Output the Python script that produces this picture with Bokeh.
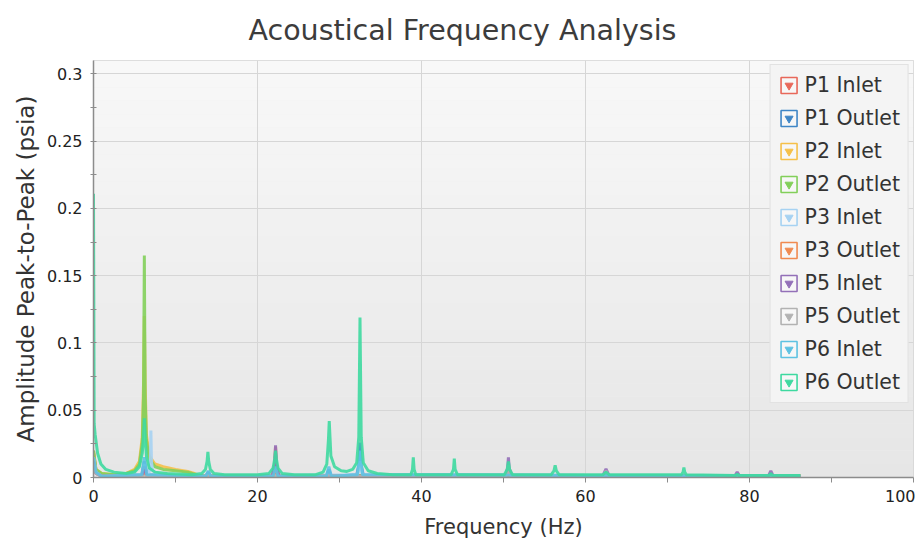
import math
from bokeh.plotting import figure
from bokeh.models import (FixedTicker, CustomJSTickFormatter, Legend, LegendItem,
                          BoxAnnotation, Range1d, ColumnDataSource)
from bokeh.embed import file_html
from bokeh.resources import INLINE

# ---------------- data ----------------
title_text = "Acoustical Frequency Analysis"
series_names = ["P1 Inlet", "P1 Outlet", "P2 Inlet", "P2 Outlet", "P3 Inlet",
                "P3 Outlet", "P5 Inlet", "P5 Outlet", "P6 Inlet", "P6 Outlet"]
series_colors = ["#e8685a", "#3f86c6", "#f5c04a", "#82cf5a", "#a6d2f2",
                 "#f08a50", "#9370b8", "#b2b2b2", "#5ec2e2", "#3ed9a0"]

p1_in_f = [0, 0.3, 1.0, 5.9, 6.2, 6.5, 21.8, 22.1, 22.2, 22.3, 22.6, 50.3, 50.6, 50.9, 86.2]
p1_in_a = [0.02, 0.005, 0.001, 0.001, 0.006, 0.001, 0.001, 0.010, 0.023, 0.010, 0.001, 0.001, 0.008, 0.001, 0.001]

p1_out_f = [0, 0.3, 1.0, 5.9, 6.2, 6.5, 13.7, 14.0, 14.3, 21.9, 22.2, 22.5, 28.4, 28.7, 29.0, 32.1, 32.4, 32.5, 32.6, 32.9, 86.2]
p1_out_a = [0.015, 0.004, 0.001, 0.002, 0.012, 0.002, 0.001, 0.004, 0.001, 0.001, 0.006, 0.001, 0.001, 0.006, 0.001, 0.002, 0.010, 0.026, 0.010, 0.002, 0.001]

p2_in_f = [0, 0.3, 1.0, 2.5, 4.0, 5.0, 5.6, 5.95, 6.1, 6.2, 6.3, 6.45, 6.8, 7.5, 8.5, 10.0, 11.5, 12.3, 12.8, 86.2]
p2_in_a = [0.018, 0.006, 0.003, 0.002, 0.003, 0.006, 0.012, 0.03, 0.07, 0.12, 0.07, 0.032, 0.016, 0.010, 0.008, 0.006, 0.0045, 0.003, 0.0015, 0.0015]

p2_out_f = [0, 0.3, 1.0, 2.5, 4.0, 5.0, 5.6, 5.95, 6.1, 6.2, 6.3, 6.45, 6.8, 7.5, 8.5, 10.0, 11.5, 12.3, 12.8, 86.2]
p2_out_a = [0.02, 0.006, 0.003, 0.002, 0.003, 0.005, 0.010, 0.026, 0.06, 0.165, 0.06, 0.028, 0.014, 0.008, 0.006, 0.005, 0.004, 0.0025, 0.0015, 0.0015]

p3_in_f = [0, 0.3, 1.0, 6.0, 6.2, 6.4, 6.8, 6.93, 7.0, 7.07, 7.2, 7.8, 8.6, 32.2, 32.5, 32.8, 86.2]
p3_in_a = [0.015, 0.004, 0.001, 0.002, 0.010, 0.003, 0.004, 0.012, 0.035, 0.012, 0.005, 0.003, 0.001, 0.002, 0.012, 0.002, 0.001]

p3_out_f = [0, 0.3, 1.0, 5.9, 6.2, 6.5, 21.9, 22.2, 22.5, 86.2]
p3_out_a = [0.012, 0.003, 0.001, 0.001, 0.005, 0.001, 0.001, 0.006, 0.001, 0.001]

p5_in_f = [0, 0.3, 1.0, 5.9, 6.2, 6.5, 21.8, 22.1, 22.2, 22.3, 22.6, 50.2, 50.5, 50.6, 50.7, 51.0,
           62.1, 62.5, 62.9, 78.2, 78.5, 78.8, 82.3, 82.6, 82.9, 86.2]
p5_in_a = [0.012, 0.003, 0.001, 0.001, 0.008, 0.001, 0.001, 0.010, 0.024, 0.010, 0.001, 0.001, 0.007, 0.015, 0.007, 0.001,
           0.001, 0.0065, 0.001, 0.001, 0.004, 0.001, 0.001, 0.005, 0.001, 0.001]

p5_out_f = [0, 0.3, 1.0, 50.3, 50.6, 50.9, 62.2, 62.5, 62.8, 86.2]
p5_out_a = [0.010, 0.003, 0.001, 0.001, 0.009, 0.001, 0.001, 0.005, 0.001, 0.001]

p6_in_f = [0, 0.3, 1.0, 5.9, 6.2, 6.5, 13.7, 14.0, 14.3, 21.9, 22.2, 22.5, 28.4, 28.7, 29.0, 32.2, 32.5, 32.8, 86.2]
p6_in_a = [0.015, 0.004, 0.001, 0.002, 0.015, 0.002, 0.001, 0.005, 0.001, 0.001, 0.008, 0.001, 0.001, 0.008, 0.001, 0.002, 0.020, 0.002, 0.001]

p6_out_f = [0, 0.08, 0.2, 0.5, 0.9, 1.5, 2.5, 4.0,
            5.0, 5.6, 5.95, 6.1, 6.2, 6.3, 6.45, 6.8, 7.5, 9.0, 12.0,
            13.2, 13.65, 13.85, 13.95, 14.05, 14.25, 14.7, 16.0, 20.0,
            21.4, 21.9, 22.1, 22.2, 22.3, 22.5, 23.0, 24.5,
            27.0, 28.0, 28.45, 28.65, 28.75, 28.95, 29.4, 30.2, 30.9,
            31.6, 32.1, 32.35, 32.5, 32.65, 32.9, 33.5, 34.6, 36.5,
            38.7, 38.9, 39.0, 39.1, 39.3,
            43.6, 43.9, 44.0, 44.1, 44.4,
            50.1, 50.45, 50.6, 50.75, 51.1,
            55.8, 56.15, 56.3, 56.45, 56.8,
            62.1, 62.5, 62.9,
            71.7, 71.9, 72.0, 72.1, 72.3,
            78.3, 78.5, 78.7,
            82.4, 82.6, 82.8, 86.2]
p6_out_a = [0.211, 0.040, 0.032, 0.018, 0.010, 0.006, 0.004, 0.003,
            0.004, 0.008, 0.018, 0.030, 0.044, 0.030, 0.016, 0.007, 0.004, 0.003, 0.002,
            0.003, 0.006, 0.012, 0.019, 0.012, 0.006, 0.003, 0.002, 0.002,
            0.003, 0.007, 0.014, 0.020, 0.014, 0.007, 0.003, 0.002,
            0.002, 0.004, 0.010, 0.028, 0.042, 0.016, 0.008, 0.005, 0.0045,
            0.006, 0.011, 0.030, 0.119, 0.030, 0.011, 0.005, 0.003, 0.002,
            0.002, 0.006, 0.015, 0.006, 0.002,
            0.002, 0.006, 0.014, 0.006, 0.002,
            0.002, 0.006, 0.012, 0.006, 0.002,
            0.002, 0.005, 0.009, 0.005, 0.002,
            0.002, 0.004, 0.002,
            0.002, 0.004, 0.0075, 0.004, 0.002,
            0.0015, 0.0025, 0.0015,
            0.0015, 0.003, 0.0015, 0.0015]

series_f = [p1_in_f, p1_out_f, p2_in_f, p2_out_f, p3_in_f, p3_out_f, p5_in_f, p5_out_f, p6_in_f, p6_out_f]
series_a = [p1_in_a, p1_out_a, p2_in_a, p2_out_a, p3_in_a, p3_out_a, p5_in_a, p5_out_a, p6_in_a, p6_out_a]

x_ticks = [0, 20, 40, 60, 80, 100]
x_minor = [10, 30, 50, 70, 90]
y_ticks = [0, 0.05, 0.1, 0.15, 0.2, 0.25, 0.3]
y_minor = [0.025, 0.075, 0.125, 0.175, 0.225, 0.275]

FONT = "DejaVu Sans"
W, H = 915, 541

p = figure(width=W, height=H, output_backend="svg", toolbar_location=None,
           x_range=Range1d(0, 100), y_range=Range1d(0, 0.31),
           min_border_left=93, min_border_right=2, min_border_top=60, min_border_bottom=64,
           title=title_text)
p.title.text_font = FONT
p.title.text_font_size = "28.5px"
p.title.text_font_style = "normal"
p.title.text_color = "#3c3c3c"
p.title.align = "left"
p.title.offset = 155
p.title.standoff = 24
p.title.vertical_align = "top"

p.background_fill_color = "#eeeeee"
p.border_fill_color = "white"
p.outline_line_color = "#d4d4d4"

# vertical gradient of the plot area (styling only)
nb = 31
for i in range(nb):
    t = i / (nb - 1)
    c = int(round(0xe6 + (0xf8 - 0xe6) * t))
    p.add_layout(BoxAnnotation(bottom=0.31 * i / nb, top=0.31 * (i + 1) / nb,
                               fill_color="#%02x%02x%02x" % (c, c, c), fill_alpha=1.0,
                               line_alpha=0, level="image"))

# axes
p.xaxis.ticker = FixedTicker(ticks=x_ticks, minor_ticks=x_minor)
p.yaxis.ticker = FixedTicker(ticks=y_ticks, minor_ticks=y_minor)
p.yaxis.formatter = CustomJSTickFormatter(code="return String(Math.round(tick*1000)/1000);")
p.xaxis.formatter = CustomJSTickFormatter(code="return String(Math.round(tick));")
for ax in (p.xaxis, p.yaxis):
    ax.axis_line_color = "#8c8c8c"
    ax.axis_line_width = 1.5
    ax.major_tick_line_color = "#8c8c8c"
    ax.minor_tick_line_color = "#8c8c8c"
    ax.major_label_text_font = FONT
    ax.major_label_text_font_size = "16px"
    ax.major_label_text_color = "#222222"
    ax.axis_label_text_font = FONT
    ax.axis_label_text_font_style = "normal"
    ax.axis_label_text_color = "#333333"
p.xaxis.major_tick_in = 0
p.xaxis.major_tick_out = 5
p.xaxis.minor_tick_in = 0
p.xaxis.minor_tick_out = 5
p.yaxis.major_tick_in = 3
p.yaxis.major_tick_out = 3
p.yaxis.minor_tick_in = 3
p.yaxis.minor_tick_out = 3
p.xaxis.major_label_standoff = 7
p.yaxis.major_label_standoff = 8
p.xaxis.axis_label = "Frequency (Hz)"
p.yaxis.axis_label = "Amplitude Peak-to-Peak (psia)"
p.xaxis.axis_label_text_font_size = "21px"
p.yaxis.axis_label_text_font_size = "23px"
p.xaxis.axis_label_standoff = 10
p.yaxis.axis_label_standoff = 5

p.xgrid.grid_line_color = "#d6d6d6"
p.ygrid.grid_line_color = "#d6d6d6"

items = []
for name, col, fx, ay in zip(series_names, series_colors, series_f, series_a):
    src = ColumnDataSource(dict(f=fx, a=ay))
    p.line("f", "a", source=src, line_color=col, line_width=3, line_alpha=0.9)
    box = p.quad(left=[math.nan], right=[math.nan], bottom=[math.nan], top=[math.nan],
                 fill_color="#f7f7f7", line_color=col, line_width=1.6)
    tick = p.scatter(x=[math.nan], y=[math.nan], marker="inverted_triangle",
                     fill_color=col, line_color=col)
    items.append(LegendItem(label=name, renderers=[box, tick]))

legend = Legend(items=items, location="top_right")
legend.label_text_font = FONT
legend.label_text_font_size = "20.5px"
legend.label_text_color = "#333333"
legend.background_fill_color = "#f4f4f4"
legend.background_fill_alpha = 1.0
legend.border_line_color = "#cfcfcf"
legend.glyph_width = 20
legend.glyph_height = 20
legend.label_height = 24
legend.label_standoff = 6
legend.spacing = 9
legend.padding = 8
legend.margin = 4
p.add_layout(legend)

open("out.html", "w").write(file_html(p, INLINE))
